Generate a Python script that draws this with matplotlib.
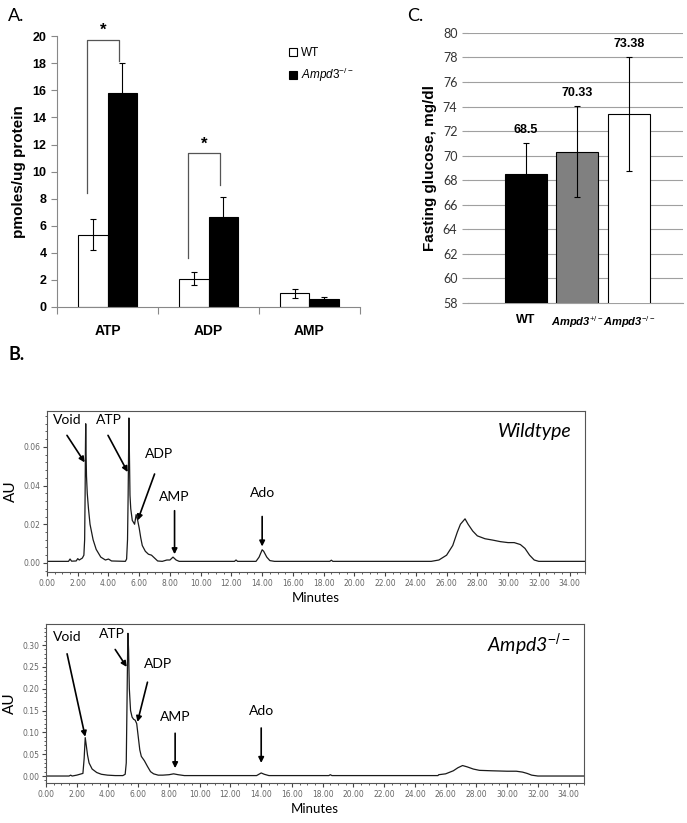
import numpy as np
import matplotlib
matplotlib.use("Agg")
import matplotlib.pyplot as plt
from matplotlib.ticker import MultipleLocator, FormatStrFormatter

plt.rcParams["font.family"] = ["Liberation Sans", "DejaVu Sans"]
plt.rcParams["mathtext.fontset"] = "custom"
plt.rcParams["mathtext.rm"] = "Liberation Sans"
plt.rcParams["mathtext.it"] = "Liberation Sans:italic"
plt.rcParams["mathtext.bf"] = "Liberation Sans:bold"

# ---- panel A: nucleotide levels ----
nucleotides = ["ATP", "ADP", "AMP"]
wt_mean = [5.35, 2.1, 1.0]
wt_err = [1.15, 0.45, 0.3]
ko_mean = [15.8, 6.65, 0.6]
ko_err = [2.2, 1.5, 0.15]
# significance brackets: (left foot, top, right foot)
brackets = [(8.4, 19.7, 18.2), (3.6, 11.35, 9.0)]

# ---- panel C: fasting glucose ----
genotypes = ["WT", "Ampd3$^{+/-}$", "Ampd3$^{-/-}$"]
glucose = [68.5, 70.33, 73.38]
glucose_err = [2.5, 3.72, 4.65]
glucose_text = ["68.5", "70.33", "73.38"]

# ---- panel B: chromatograms (minutes, AU) ----
wt_t = [0.0, 1.4, 1.5, 1.6, 1.9, 2.0, 2.1, 2.3, 2.4, 2.45, 2.48, 2.5, 2.52, 2.54,
        2.57, 2.62, 2.7, 2.8, 3.0, 3.2, 3.5, 3.8, 4.0, 4.2, 5.1, 5.18, 5.24, 5.28,
        5.31, 5.33, 5.36, 5.4, 5.45, 5.55, 5.7, 5.8, 5.9, 6.0, 6.1, 6.2, 6.4, 6.6,
        6.8, 7.0, 7.2, 7.5, 7.8, 8.0, 8.2, 8.4, 8.6, 12.2, 12.3, 12.4, 13.6, 13.8,
        14.0, 14.1, 14.3, 14.5, 14.8, 18.4, 18.5, 18.6, 25.0, 25.5, 26.0, 26.4,
        26.7, 26.9, 27.2, 27.4, 27.7, 28.0, 28.5, 29.0, 29.5, 30.0, 30.4, 30.8,
        31.1, 31.4, 31.7, 32.0, 35.0]
wt_au = [0.0008, 0.0008, 0.002, 0.0009, 0.001, 0.0022, 0.0015, 0.0025, 0.004,
         0.012, 0.035, 0.058, 0.072, 0.058, 0.045, 0.036, 0.028, 0.02, 0.012,
         0.007, 0.003, 0.0015, 0.002, 0.001, 0.0008, 0.002, 0.012, 0.035, 0.058,
         0.075, 0.058, 0.035, 0.028, 0.022, 0.02, 0.025, 0.022, 0.018, 0.013,
         0.009, 0.006, 0.0045, 0.004, 0.0025, 0.001, 0.0008, 0.0015, 0.0015,
         0.003, 0.0015, 0.0008, 0.0008, 0.0015, 0.0008, 0.0008, 0.003, 0.0068,
         0.006, 0.003, 0.0012, 0.0008, 0.0008, 0.0014, 0.0008, 0.0008, 0.0015,
         0.004, 0.009, 0.016, 0.02, 0.0228, 0.02, 0.0165, 0.014, 0.0125, 0.0118,
         0.011, 0.0105, 0.0105, 0.0095, 0.0075, 0.004, 0.0015, 0.0008, 0.0008]

ko_t = [0.0, 1.5, 1.6, 1.7, 2.0, 2.2, 2.4, 2.48, 2.55, 2.62, 2.7, 2.8, 3.0, 3.3,
        3.6, 4.0, 4.5, 5.0, 5.15, 5.22, 5.27, 5.31, 5.33, 5.37, 5.42, 5.5, 5.6,
        5.7, 5.8, 5.9, 6.0, 6.1, 6.2, 6.4, 6.6, 6.8, 7.0, 7.3, 7.6, 8.0, 8.3, 8.6,
        9.0, 13.7, 13.9, 14.0, 14.2, 14.5, 18.4, 18.5, 18.6, 25.5, 25.55, 26.0,
        26.5, 26.8, 27.1, 27.4, 27.8, 28.2, 29.0, 30.0, 30.6, 31.0, 31.3, 31.6,
        32.0, 35.0]
ko_au = [0.0, 0.0, 0.002, 0.0, 0.002, 0.004, 0.006, 0.04, 0.088, 0.07, 0.048,
         0.03, 0.016, 0.008, 0.004, 0.002, 0.001, 0.001, 0.004, 0.03, 0.17, 0.29,
         0.327, 0.29, 0.2, 0.15, 0.135, 0.13, 0.128, 0.12, 0.09, 0.06, 0.045,
         0.035, 0.022, 0.01, 0.005, 0.002, 0.002, 0.003, 0.005, 0.003, 0.001,
         0.001, 0.005, 0.007, 0.004, 0.001, 0.001, 0.003, 0.001, 0.001, 0.003,
         0.005, 0.012, 0.019, 0.024, 0.021, 0.016, 0.013, 0.012, 0.011, 0.011,
         0.009, 0.006, 0.002, 0.0, 0.0]

peak_names = ["Void", "ATP", "ADP", "AMP", "Ado"]
# (text x, text y, arrow tail x, tail y, head x, head y)
wt_arrows = [(1.3, 0.071, 1.3, 0.066, 2.45, 0.052),
             (4.0, 0.071, 3.97, 0.066, 5.25, 0.047),
             (7.3, 0.053, 7.0, 0.046, 5.9, 0.022),
             (8.3, 0.031, 8.3, 0.027, 8.3, 0.0045),
             (14.0, 0.033, 14.0, 0.024, 14.0, 0.0085)]
ko_arrows = [(1.37, 0.305, 1.37, 0.28, 2.55, 0.09),
             (4.3, 0.312, 4.5, 0.29, 5.25, 0.25),
             (7.3, 0.243, 6.6, 0.215, 5.95, 0.124),
             (8.4, 0.122, 8.4, 0.098, 8.4, 0.018),
             (14.0, 0.136, 14.0, 0.11, 14.0, 0.03)]

fig = plt.figure(figsize=(6.87, 8.23), dpi=100)

# ================= panel A =================
axA = fig.add_axes([0.083, 0.627, 0.441, 0.329])
x = np.arange(len(nucleotides))
w = 0.29
axA.bar(x - w / 2, wt_mean, w, color="white", edgecolor="black", linewidth=0.8, label="WT")
axA.bar(x + w / 2, ko_mean, w, color="black", edgecolor="black", linewidth=0.8,
        label="$Ampd3^{-/-}$")
axA.errorbar(x - w / 2, wt_mean, yerr=wt_err, fmt="none", ecolor="black",
             elinewidth=0.8, capsize=2.5, capthick=0.8)
axA.errorbar(x + w / 2, ko_mean, yerr=ko_err, fmt="none", ecolor="black",
             elinewidth=0.8, capsize=2.5, capthick=0.8)
for i, (lo, top, ro) in enumerate(brackets):
    xl, xr = i - 0.2, i + 0.11
    axA.plot([xl, xl, xr, xr], [lo, top, top, ro], color="#555555", lw=0.9, clip_on=False)
    axA.text((xl + xr) / 2, top + 0.15, "*", ha="center", va="bottom",
             fontsize=12, fontweight="bold", clip_on=False)
axA.set_xlim(-0.5, 2.5)
axA.set_ylim(0, 20)
axA.set_yticks(range(0, 21, 2))
axA.set_xticks([-0.5, 0.5, 1.5, 2.5])
axA.set_xticklabels([])
axA.set_xticks(x, minor=True)
axA.set_xticklabels(nucleotides, minor=True, fontsize=10, fontweight="bold")
axA.tick_params(axis="x", which="minor", length=0, pad=12)
axA.tick_params(axis="x", which="major", length=5, color="#888888")
axA.tick_params(axis="y", length=4, color="#888888", labelsize=9)
for lab in axA.get_yticklabels():
    lab.set_fontweight("bold")
axA.spines["top"].set_visible(False)
axA.spines["right"].set_visible(False)
axA.spines["left"].set_color("#888888")
axA.spines["bottom"].set_color("#888888")
axA.set_ylabel("pmoles/ug protein", fontsize=11, fontweight="bold", labelpad=5)
axA.legend(loc="upper left", bbox_to_anchor=(0.73, 1.0), frameon=False, fontsize=8.5,
           handlelength=0.7, handleheight=0.7, handletextpad=0.3, labelspacing=0.6)
fig.text(0.012, 0.975, "A.", fontsize=13, family="Lato")

# ================= panel C =================
axC = fig.add_axes([0.681, 0.632, 0.313, 0.328])
xc = np.arange(len(genotypes))
axC.bar(xc, glucose, 0.81, bottom=0, color=["black", "#808080", "white"],
        edgecolor="black", linewidth=0.8, zorder=3)
axC.errorbar(xc, glucose, yerr=glucose_err, fmt="none", ecolor="black",
             elinewidth=0.8, capsize=2.5, capthick=0.8, zorder=4)
for xi, g, e, s in zip(xc, glucose, glucose_err, glucose_text):
    axC.text(xi, g + e + 0.6, s, ha="center", va="bottom", fontsize=9, fontweight="bold")
axC.set_ylim(58, 80)
axC.set_xlim(-1.12, 3.04)
axC.set_yticks(range(58, 81, 2))
axC.yaxis.grid(True, color="#a0a0a0", lw=0.8, zorder=0)
axC.set_xticks(xc)
axC.set_xticklabels(genotypes, fontsize=8, fontweight="bold")
xl_c = axC.get_xticklabels()
xl_c[0].set_fontsize(9)
for lab in xl_c[1:]:
    lab.set_style("italic")
axC.tick_params(axis="x", length=0, pad=8)
axC.tick_params(axis="y", length=4, color="#a0a0a0", labelsize=9, labelcolor="#333333")
for lab in axC.get_yticklabels():
    lab.set_family("Lato")
for sp in ["top", "right", "left"]:
    axC.spines[sp].set_visible(False)
axC.spines["bottom"].set_color("#a0a0a0")
axC.set_ylabel("Fasting glucose, mg/dl", fontsize=11, fontweight="bold", labelpad=4)
fig.text(0.592, 0.975, "C.", fontsize=13, family="Lato")

# ================= panel B =================
fig.text(0.012, 0.563, "B.", fontsize=13, fontweight="bold", family="Lato")


def chromatogram(rect, t, au, ylim, ystep, arrows, title):
    ax = fig.add_axes(rect)
    ax.plot(t, au, color="#1a1a1a", lw=0.9)
    ax.set_xlim(0, 35)
    ax.set_ylim(*ylim)
    ax.xaxis.set_major_locator(MultipleLocator(2))
    ax.xaxis.set_minor_locator(MultipleLocator(0.5))
    ax.xaxis.set_major_formatter(FormatStrFormatter("%.2f"))
    ax.yaxis.set_major_locator(MultipleLocator(ystep))
    ax.yaxis.set_minor_locator(MultipleLocator(ystep / 5))
    ax.yaxis.set_major_formatter(FormatStrFormatter("%.2f"))
    ax.tick_params(which="major", length=3, labelsize=5.5, labelcolor="#666666",
                   color="#444444", pad=2)
    ax.tick_params(which="minor", length=1.5, color="#444444")
    for sp in ax.spines.values():
        sp.set_color("#555555")
    for lab in ax.get_xticklabels() + ax.get_yticklabels():
        lab.set_family("DejaVu Sans")
    ax.set_xlabel("Minutes", fontsize=9.5, family="Lato", labelpad=3)
    ax.set_ylabel("AU", fontsize=11, family="Lato", labelpad=4)
    for name, (tx, ty, ax0, ay0, ax1, ay1) in zip(peak_names, arrows):
        ax.text(tx, ty, name, ha="center", va="bottom", fontsize=10, family="Lato")
        ax.annotate("", xy=(ax1, ay1), xytext=(ax0, ay0),
                    arrowprops=dict(arrowstyle="-|>", color="black", lw=1.2,
                                    mutation_scale=8, shrinkA=0, shrinkB=0))
    ax.text(0.975, 0.87, title, transform=ax.transAxes, ha="right", va="center",
            fontsize=14, style="italic", family="Lato")
    return ax


chromatogram([0.0684, 0.305, 0.783, 0.1956], wt_t, wt_au, (-0.0047, 0.0786), 0.02,
             wt_arrows, "Wildtype")
chromatogram([0.067, 0.0486, 0.783, 0.193], ko_t, ko_au, (-0.016, 0.348), 0.05,
             ko_arrows, "Ampd3$^{-/-}$")

fig.savefig("out.png", dpi=100)
